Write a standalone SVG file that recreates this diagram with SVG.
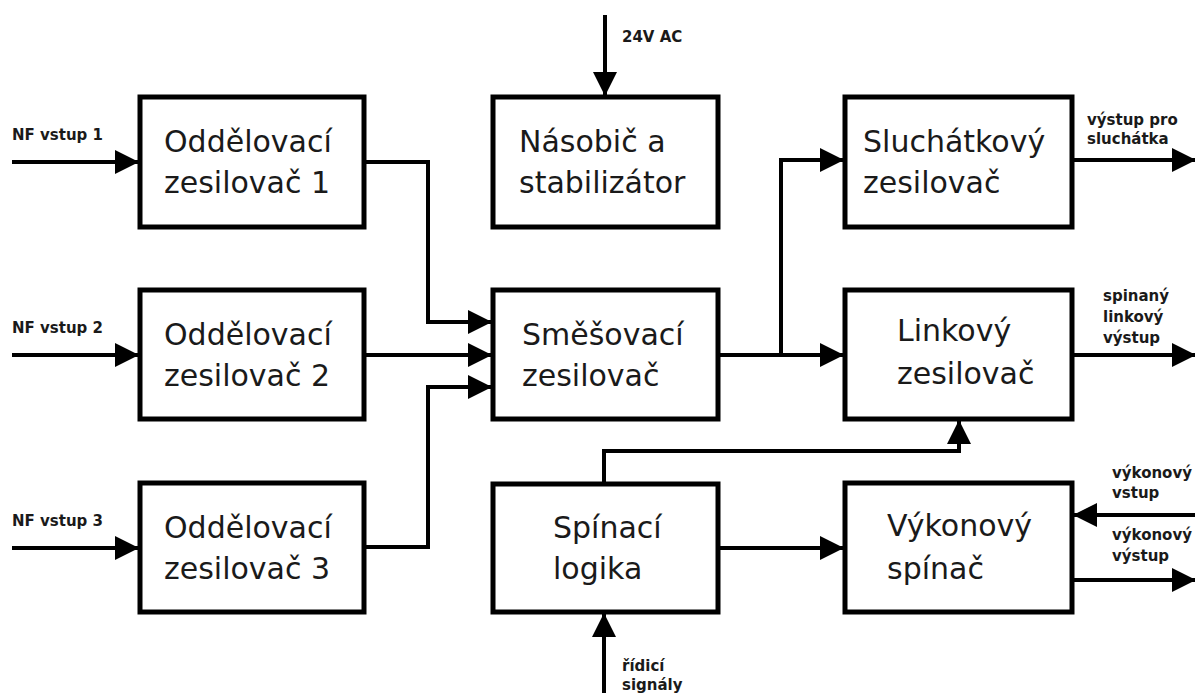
<svg xmlns="http://www.w3.org/2000/svg" width="1195" height="693" viewBox="0 0 1195 693">
<style>
.box{fill:#fff;stroke:#000;stroke-width:5}
.t{font-family:"DejaVu Sans",Verdana,sans-serif;font-size:30px;fill:#1a1a1a}
.lbl{font-family:"DejaVu Sans",Verdana,sans-serif;font-size:15px;font-weight:bold;fill:#1a1a1a}
.c{fill:none;stroke:#000;stroke-width:4}
</style>
<defs>
<marker id="ah" markerUnits="userSpaceOnUse" markerWidth="24" markerHeight="24" refX="23" refY="12" orient="auto">
<path d="M0,0 L24,12 L0,24 z" fill="#000"/>
</marker>
</defs>
<rect width="1195" height="693" fill="#fff"/>
<g id="connectors">
<path class="c" d="M12,162 H138" marker-end="url(#ah)"/>
<path class="c" d="M12,355 H138" marker-end="url(#ah)"/>
<path class="c" d="M12,548 H138" marker-end="url(#ah)"/>
<path class="c" d="M366,162 H428 V322 H491" marker-end="url(#ah)"/>
<path class="c" d="M366,355 H491" marker-end="url(#ah)"/>
<path class="c" d="M366,547 H428 V387 H491" marker-end="url(#ah)"/>
<path class="c" d="M605,15 V95" marker-end="url(#ah)"/>
<path class="c" d="M720,355 H843" marker-end="url(#ah)"/>
<path class="c" d="M781,355 V160 H843" marker-end="url(#ah)"/>
<path class="c" d="M1074,160 H1195" marker-end="url(#ah)"/>
<path class="c" d="M1074,355 H1195" marker-end="url(#ah)"/>
<path class="c" d="M604,482 V451 H959 V421" marker-end="url(#ah)"/>
<path class="c" d="M720,548 H843" marker-end="url(#ah)"/>
<path class="c" d="M604,693 V614" marker-end="url(#ah)"/>
<path class="c" d="M1195,515 H1074" marker-end="url(#ah)"/>
<path class="c" d="M1074,580 H1195" marker-end="url(#ah)"/>
</g>
<g id="labels">
<text class="lbl" x="12" y="140">NF vstup 1</text>
<text class="lbl" x="12" y="333">NF vstup 2</text>
<text class="lbl" x="12" y="526">NF vstup 3</text>
<text class="lbl" x="622" y="42">24V AC</text>
<text class="lbl" x="1087" y="125">výstup pro</text>
<text class="lbl" x="1087" y="144">sluchátka</text>
<text class="lbl" x="1103" y="301">spinaný</text>
<text class="lbl" x="1103" y="322">linkový</text>
<text class="lbl" x="1103" y="343">výstup</text>
<text class="lbl" x="1112" y="478">výkonový</text>
<text class="lbl" x="1112" y="498">vstup</text>
<text class="lbl" x="1112" y="540">výkonový</text>
<text class="lbl" x="1112" y="561">výstup</text>
<text class="lbl" x="622" y="671">řídicí</text>
<text class="lbl" x="622" y="690">signály</text>
</g>
<g id="odd1"><rect class="box" x="140" y="97" width="224" height="130"/><text class="t" x="164" y="152">Oddělovací</text><text class="t" x="164" y="193">zesilovač 1</text></g>
<g id="odd2"><rect class="box" x="140" y="290" width="224" height="129"/><text class="t" x="164" y="345">Oddělovací</text><text class="t" x="164" y="386">zesilovač 2</text></g>
<g id="odd3"><rect class="box" x="140" y="483" width="224" height="129"/><text class="t" x="164" y="538">Oddělovací</text><text class="t" x="164" y="579">zesilovač 3</text></g>
<g id="nasobic"><rect class="box" x="493" y="97" width="225" height="130"/><text class="t" x="519" y="152">Násobič a</text><text class="t" x="519" y="193">stabilizátor</text></g>
<g id="smesovaci"><rect class="box" x="493" y="290" width="225" height="129"/><text class="t" x="522" y="345">Směšovací</text><text class="t" x="522" y="386">zesilovač</text></g>
<g id="spinaci"><rect class="box" x="493" y="484" width="225" height="128"/><text class="t" x="553" y="538">Spínací</text><text class="t" x="553" y="579">logika</text></g>
<g id="sluchatkovy"><rect class="box" x="845" y="97" width="227" height="130"/><text class="t" x="863" y="152">Sluchátkový</text><text class="t" x="863" y="193">zesilovač</text></g>
<g id="linkovy"><rect class="box" x="845" y="290" width="227" height="129"/><text class="t" x="897" y="341">Linkový</text><text class="t" x="897" y="384">zesilovač</text></g>
<g id="vykonovy"><rect class="box" x="845" y="483" width="227" height="129"/><text class="t" x="887" y="536">Výkonový</text><text class="t" x="887" y="579">spínač</text></g>
</svg>
